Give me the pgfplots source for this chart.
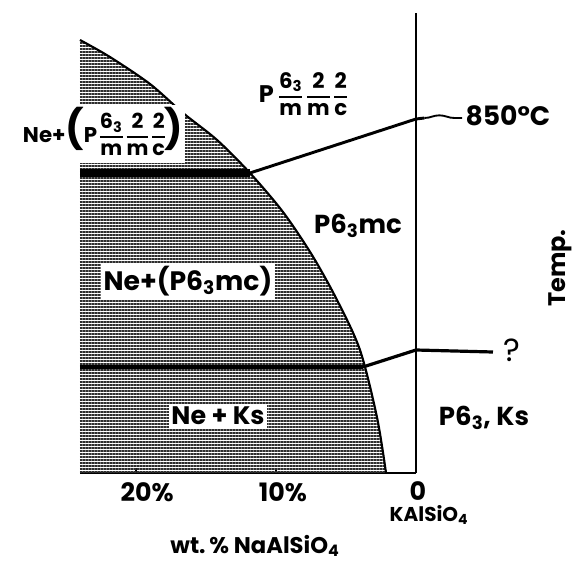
\documentclass[border=0pt]{standalone}
\usepackage{fontspec}
\setmainfont{Poppins}
\usepackage{pgfplots}
\pgfplotsset{compat=1.18}
\usetikzlibrary{patterns.meta,decorations.pathmorphing}

% stacked fraction set in the text font
\newcommand\fr[2]{\begin{tabular}[c]{@{}c@{}}#1\\[1pt]\noalign{\hrule height 1.3pt\vskip2pt}#2\end{tabular}}
\newcommand\lab[1]{\fontsize{#1}{#1}\selectfont\bfseries}
\renewcommand\arraystretch{1.0}

% solvus, x = -(wt.% NaAlSiO4), y = temperature (arbitrary units)
\pgfplotstableread{
x y
-24.00 433
-21.86 416
-19.00 389
-16.64 360
-14.21 333
-11.86 300
-9.50 261
-7.43 218
-5.64 173
-4.00 123
-2.79 56
-2.14 0
}\solvus

\begin{document}
\begin{tikzpicture}
\begin{axis}[
    scale only axis,
    width=252pt, height=345pt,
    xmin=-24, xmax=0, ymin=0, ymax=460,
    axis x line*=bottom, axis y line*=right,
    x axis line style={line width=1.4pt},
    y axis line style={line width=0.9pt},
    xtick={-20,-10}, xticklabels={}, ytick=\empty,
    tick align=inside, major tick length=4pt,
    tick style={black, line width=0.8pt},
    clip=false,
]
% hatched two-phase field
\addplot[draw=none, smooth,
    pattern={Lines[angle=0,distance=2.25pt,line width=1.65pt]},
    pattern color=black!82] table {\solvus} \closedcycle;
% solid part of the solvus
\addplot[black, line width=1.6pt, smooth] table[skip first n=5] {\solvus};

% upper transition
\addplot[black, line width=5.5pt] coordinates {(-24,300) (-11.86,300)};
\addplot[black, line width=2.2pt] coordinates {(-11.86,300) (0,354) (0.6,355)};
\addplot[black, line width=1.4pt, decorate,
    decoration={snake, amplitude=2pt, segment length=36pt}]
    coordinates {(0.6,355) (3.3,355)};
% lower transition
\addplot[black, line width=3pt] coordinates {(-24,106) (-3.79,106)};
\addplot[black, line width=2.4pt] coordinates {(-3.79,106) (0,123) (5.5,121)};

\node[anchor=east, fill=white, inner xsep=1pt, inner ysep=1pt] at (-16.5,339)
    {\lab{16}Ne+{\lab{29}(}P\hspace{2pt}\lab{15.5}\fr{6\textsubscript{3}}{m}\hspace{3pt}\fr{2}{m}\hspace{3pt}\fr{2}{c}{\lab{29})}};
\node at (-8.07,376) {\lab{18}P\hspace{4pt}\lab{16}\fr{6\textsubscript{3}}{m}\hspace{3.5pt}\fr{2}{m}\hspace{3.5pt}\fr{2}{c}};
\node at (-4.14,247) {\lab{19.5}P6\textsubscript{3}mc};
\node[fill=white, inner sep=2pt] at (-16.29,192) {\lab{20}Ne+(P6\textsubscript{3}mc)};
\node[fill=white, inner sep=2pt] at (-14.14,57) {\lab{19}Ne + Ks};
\node at (4.86,55) {\lab{19.5}P6\textsubscript{3}, Ks};
\node at (6.86,123) {\fontsize{24}{24}\selectfont ?};
\node at (6.57,357) {\lab{20}850°C};
\node[rotate=90] at (10.29,205) {\lab{18}Temp.};

\node at (-19.21,-19) {\lab{19}20\%};
\node at (-9.5,-19) {\lab{19}10\%};
\node at (0.14,-18) {\lab{19}0};
\node at (0.93,-42) {\lab{15}KAlSiO\textsubscript{4}};
\node at (-11.5,-73) {\lab{17}wt.\,\% NaAlSiO\textsubscript{4}};

\coordinate (bl) at (-29.714,-89);
\coordinate (tr) at (11.43,473);
\end{axis}
\pgfresetboundingbox
\useasboundingbox (bl) rectangle (tr);
\end{tikzpicture}
\end{document}
